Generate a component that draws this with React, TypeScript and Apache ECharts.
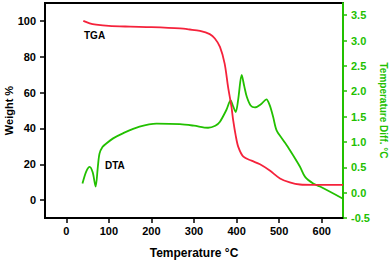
import React, { useEffect, useRef } from "react";
import * as echarts from "echarts";

const xTicks = [0, 100, 200, 300, 400, 500, 600];
const weightTicks = [0, 20, 40, 60, 80, 100];
const diffTicks = [-0.5, 0, 0.5, 1, 1.5, 2, 2.5, 3, 3.5];

const tgaTemp = [40, 55, 70, 100, 150, 200, 267, 290, 314, 337, 349, 361, 372, 380, 388, 392, 398, 404, 416, 435, 455, 478, 502, 525, 549, 580, 650];
const tgaWeight = [100, 98.6, 97.9, 97.2, 96.8, 96.5, 95.8, 95.2, 94.4, 92.6, 90.2, 85.5, 76.2, 63.2, 52, 44.6, 36, 29.7, 24.2, 22, 20, 16.5, 12.1, 9.9, 8.7, 8.5, 8.5];

const dtaTemp = [38, 47, 55, 62, 69, 74, 78, 85, 94, 110, 133, 172, 212, 267, 300, 333, 350, 361, 376, 386, 392, 398, 404, 412, 418, 424, 433, 443, 458, 470, 478, 486, 494, 510, 525, 549, 561, 580, 596, 650];
const dtaDiff = [0.18, 0.42, 0.51, 0.4, 0.12, 0.5, 0.77, 0.9, 0.97, 1.07, 1.17, 1.3, 1.36, 1.35, 1.32, 1.28, 1.32, 1.4, 1.63, 1.82, 1.7, 1.59, 1.85, 2.32, 2.1, 1.89, 1.72, 1.68, 1.75, 1.84, 1.72, 1.49, 1.23, 1.03, 0.84, 0.51, 0.31, 0.18, 0.12, -0.12];

const RED = "#f5223b";
const GREEN = "#22c000";
const FONT = "Liberation Sans, Arial, sans-serif";

export default function App() {
  const ref = useRef<HTMLDivElement>(null);
  useEffect(() => {
    const chart = echarts.init(ref.current!, null, { renderer: "svg" });
    chart.setOption({
      animation: false,
      grid: {
        left: 45,
        right: 49,
        top: 3,
        bottom: 42,
        containLabel: false,
        outerBoundsMode: "none",
        show: true,
        borderColor: "#000",
        borderWidth: 2,
        backgroundColor: "transparent",
      },
      xAxis: {
        type: "value",
        min: -50,
        max: 650,
        name: "Temperature °C",
        nameLocation: "middle",
        nameGap: 29,
        nameMoveOverlap: false,
        nameTextStyle: { fontFamily: FONT, fontWeight: "bold", fontSize: 12, color: "#000" },
        axisLine: { show: true, onZero: false, lineStyle: { color: "#000", width: 2 } },
        axisTick: { show: true, customValues: xTicks, length: 5, lineStyle: { color: "#000", width: 1.5 } },
        axisLabel: { customValues: xTicks, margin: 7, fontFamily: FONT, fontWeight: "bold", fontSize: 11, color: "#000" },
        splitLine: { show: false },
      },
      yAxis: [
        {
          type: "value",
          min: -10,
          max: 110,
          name: "Weight %",
          nameLocation: "middle",
          nameGap: 31,
          nameMoveOverlap: false,
          nameTextStyle: { fontFamily: FONT, fontWeight: "bold", fontSize: 11, color: "#000" },
          axisLine: { show: true, onZero: false, lineStyle: { color: "#000", width: 2 } },
          axisTick: { show: true, customValues: weightTicks, length: 5, lineStyle: { color: "#000", width: 1.5 } },
          axisLabel: { customValues: weightTicks, margin: 9, fontFamily: FONT, fontWeight: "bold", fontSize: 11, color: "#000" },
          splitLine: { show: false },
        },
        {
          type: "value",
          position: "right",
          min: -0.5,
          max: 3.74,
          name: "Temperature Diff. °C",
          nameLocation: "middle",
          nameRotate: -90,
          nameGap: 35,
          nameMoveOverlap: false,
          nameTextStyle: { fontFamily: FONT, fontWeight: "bold", fontSize: 10, color: GREEN },
          axisLine: { show: true, onZero: false, lineStyle: { color: GREEN, width: 2 } },
          axisTick: { show: true, customValues: diffTicks, length: 4, lineStyle: { color: GREEN, width: 1.5 } },
          axisLabel: {
            customValues: diffTicks,
            margin: 8,
            fontFamily: FONT,
            fontWeight: "bold",
            fontSize: 11,
            color: GREEN,
            formatter: (v: number) => v.toFixed(1),
          },
          splitLine: { show: false },
        },
      ],
      graphic: [
        { type: "text", left: 84, top: 30, style: { text: "TGA", fontFamily: FONT, fontWeight: "bold", fontSize: 10, fill: "#000" } },
        { type: "text", left: 105, top: 160, style: { text: "DTA", fontFamily: FONT, fontWeight: "bold", fontSize: 10, fill: "#000" } },
      ],
      series: [
        {
          type: "line",
          yAxisIndex: 0,
          data: tgaTemp.map((t, i) => [t, tgaWeight[i]]),
          showSymbol: false,
          smooth: 0.3,
          lineStyle: { color: RED, width: 1.8 },
          z: 3,
        },
        {
          type: "line",
          yAxisIndex: 1,
          data: dtaTemp.map((t, i) => [t, dtaDiff[i]]),
          showSymbol: false,
          smooth: 0.3,
          lineStyle: { color: GREEN, width: 1.8 },
          z: 2,
        },
      ],
    });
    return () => chart.dispose();
  }, []);
  return <div ref={ref} style={{ width: 392, height: 260, position: "fixed", left: 0, top: 0, background: "#fff" }} />;
}
